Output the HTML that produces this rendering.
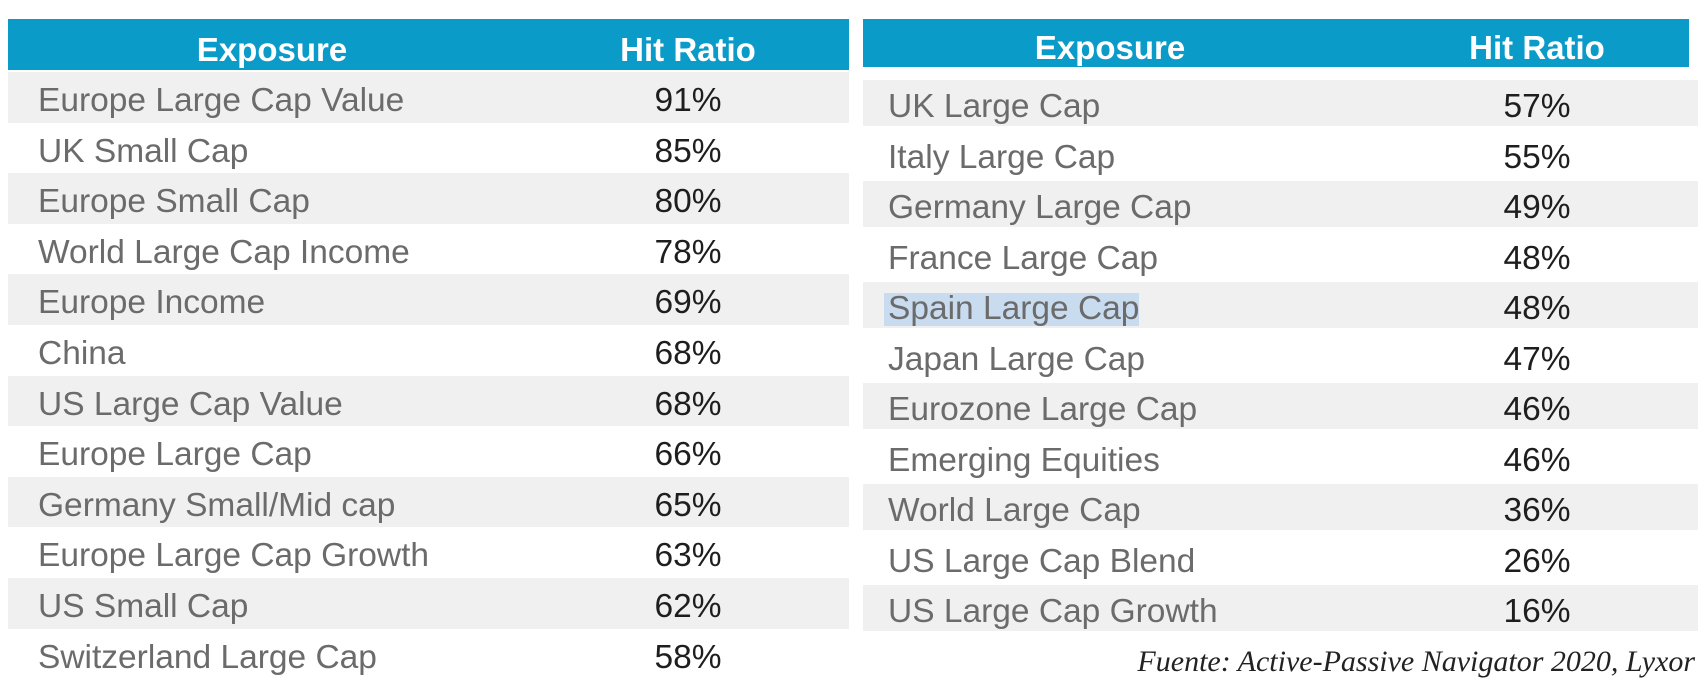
<!DOCTYPE html>
<html><head><meta charset="utf-8"><style>
body{margin:0;width:1706px;height:680px;background:#fff;position:relative;overflow:hidden;font-family:"Liberation Sans",Arial,sans-serif}
.h{position:absolute;background:#0a9bc9;height:51px}
.ht{position:absolute;color:#fff;font-weight:bold;font-size:33px;line-height:51px;transform:translateX(-50%);white-space:nowrap;z-index:3}
.r{position:absolute;height:50.6px;z-index:0}
.g{background:#f0f0f0}
.l{position:absolute;color:#6b6b6b;font-size:33.5px;white-space:nowrap;line-height:50px;z-index:2}
.p{position:absolute;color:#1e1e1e;font-size:33.5px;white-space:nowrap;line-height:50px;transform:translateX(-50%);z-index:2}
.f{position:absolute;right:11px;top:645px;font-family:"Liberation Serif",serif;font-style:italic;font-size:30px;color:#222}
</style></head><body>
<div class="h" style="left:8px;top:19px;width:841px"></div>
<div class="ht" style="left:272px;top:24px">Exposure</div>
<div class="ht" style="left:688px;top:24px">Hit Ratio</div>
<div class="h" style="left:863px;top:19px;width:826px;height:48px"></div>
<div class="ht" style="left:1110px;top:22px">Exposure</div>
<div class="ht" style="left:1537px;top:22px">Hit Ratio</div>
<div style="position:absolute;left:884px;top:293px;width:255px;height:33px;background:#c8dbef;z-index:1"></div>
<script>
var L=[["Europe Large Cap Value","91%"],["UK Small Cap","85%"],["Europe Small Cap","80%"],["World Large Cap Income","78%"],["Europe Income","69%"],["China","68%"],["US Large Cap Value","68%"],["Europe Large Cap","66%"],["Germany Small/Mid cap","65%"],["Europe Large Cap Growth","63%"],["US Small Cap","62%"],["Switzerland Large Cap","58%"]];
var R=[["UK Large Cap","57%"],["Italy Large Cap","55%"],["Germany Large Cap","49%"],["France Large Cap","48%"],["Spain Large Cap","48%"],["Japan Large Cap","47%"],["Eurozone Large Cap","46%"],["Emerging Equities","46%"],["World Large Cap","36%"],["US Large Cap Blend","26%"],["US Large Cap Growth","16%"]];
var h="";
L.forEach(function(d,i){var y=72+i*50.6;
if(i%2==0)h+='<div class="r g" style="left:8px;top:'+y+'px;width:841px"></div>';
h+='<div class="l" style="left:38px;top:'+(y+4)+'px">'+d[0]+'</div><div class="p" style="left:688px;top:'+(y+4)+'px">'+d[1]+'</div>';});
R.forEach(function(d,i){var y=80+i*50.5;
if(i%2==0)h+='<div class="r g" style="left:863px;top:'+y+'px;width:835px;height:46px"></div>';
h+='<div class="l" style="left:888px;top:'+(y+2)+'px">'+d[0]+'</div><div class="p" style="left:1537px;top:'+(y+2)+'px">'+d[1]+'</div>';});
document.body.insertAdjacentHTML("beforeend",h);
</script>
<div class="f">Fuente: Active-Passive Navigator 2020, Lyxor</div>
</body></html>
